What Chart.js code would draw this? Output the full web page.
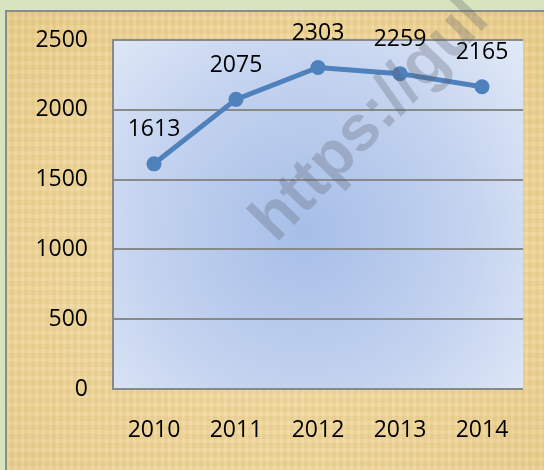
<!DOCTYPE html>
<html>
<head>
<meta charset="utf-8">
<script src="https://cdn.jsdelivr.net/npm/chart.js@4"></script>
<style>
html,body{margin:0;padding:0;}
body{width:544px;height:470px;background:#d7e4bd;position:relative;overflow:hidden;}
#frame{position:absolute;left:5px;top:10px;width:539px;height:460px;box-sizing:border-box;border-left:2px solid #8c8c8c;border-top:2px solid #8c8c8c;
background:
 repeating-linear-gradient(90deg, rgba(255,255,255,0.06) 0 3px, rgba(160,120,40,0.05) 3px 7px),
 repeating-linear-gradient(0deg, rgba(255,255,255,0.05) 0 4px, rgba(160,120,40,0.05) 4px 9px),
 radial-gradient(ellipse at 50% 55%, #f3dfa8 0%, #eed497 70%, #e9cd8b 100%);}
#c{position:absolute;left:0;top:0;}
</style>
</head>
<body>
<div id="frame"></div>
<canvas id="c" width="544" height="470"></canvas>
<script>
const categories = ["2010","2011","2012","2013","2014"];
const values = [1613, 2075, 2303, 2259, 2165];
const yTicks = [0, 500, 1000, 1500, 2000, 2500];

const FONT = "'Open Sans', 'Liberation Sans', sans-serif";

const plotBg = {
  id: 'plotBg',
  beforeDraw(chart) {
    const {ctx, chartArea: a} = chart;
    ctx.save();
    const cx = a.left + (a.right - a.left) * 0.47;
    const cy = a.top + (a.bottom - a.top) * 0.55;
    const g = ctx.createRadialGradient(cx, cy, 0, cx, cy, 300);
    g.addColorStop(0, '#a6bee8');
    g.addColorStop(0.55, '#c4d3ef');
    g.addColorStop(1, '#e4ecf8');
    ctx.fillStyle = g;
    ctx.fillRect(a.left, a.top, a.right - a.left, a.bottom - a.top);
    ctx.restore();
  }
};

const valueLabels = {
  id: 'valueLabels',
  afterDatasetsDraw(chart) {
    const {ctx} = chart;
    const meta = chart.getDatasetMeta(0);
    ctx.save();
    ctx.font = "23px " + FONT;
    ctx.fillStyle = '#000';
    ctx.textAlign = 'center';
    ctx.textBaseline = 'middle';
    meta.data.forEach((p, i) => {
      ctx.fillText(String(values[i]), p.x, p.y - 34);
    });
    ctx.restore();
  }
};

const watermark = {
  id: 'watermark',
  afterDraw(chart) {
    const {ctx} = chart;
    ctx.save();
    ctx.translate(276, 244);
    ctx.rotate(-46 * Math.PI / 180);
    ctx.font = "bold 64px 'Liberation Sans', Arial, sans-serif";
    ctx.fillStyle = 'rgba(85,90,100,0.28)';
    ctx.textBaseline = 'alphabetic';
    ctx.fillText('https://gul', 0, 0);
    ctx.restore();
  }
};

new Chart(document.getElementById('c'), {
  type: 'line',
  data: {
    labels: categories,
    datasets: [{
      data: values,
      borderColor: '#4f81bd',
      backgroundColor: '#4f81bd',
      borderWidth: 5,
      pointRadius: 7.5,
      pointHoverRadius: 7.5,
      pointBorderWidth: 0,
      pointBackgroundColor: '#4f81bd',
      tension: 0,
      fill: false
    }]
  },
  options: {
    responsive: false,
    animation: false,
    events: [],
    layout: {padding: {left: 20, right: 21, top: 40, bottom: 0}},
    plugins: {legend: {display: false}, tooltip: {enabled: false}},
    scales: {
      x: {
        offset: true,
        grid: {display: false, drawTicks: false},
        border: {display: false},
        ticks: {color: '#000', font: {family: FONT, size: 23}, padding: 28, maxRotation: 0},
        afterFit(s) { s.height = 81; }
      },
      y: {
        min: 0, max: 2500,
        afterBuildTicks(s) { s.ticks = yTicks.map(v => ({value: v})); },
        grid: {color: '#898989', lineWidth: 2, drawTicks: false},
        border: {display: true, color: '#898989', width: 2},
        ticks: {color: '#000', font: {family: FONT, size: 23}, padding: 25, callback: v => String(v)},
        afterFit(s) { s.width = 93; }
      }
    }
  },
  plugins: [plotBg, valueLabels, watermark]
});
</script>
</body>
</html>
